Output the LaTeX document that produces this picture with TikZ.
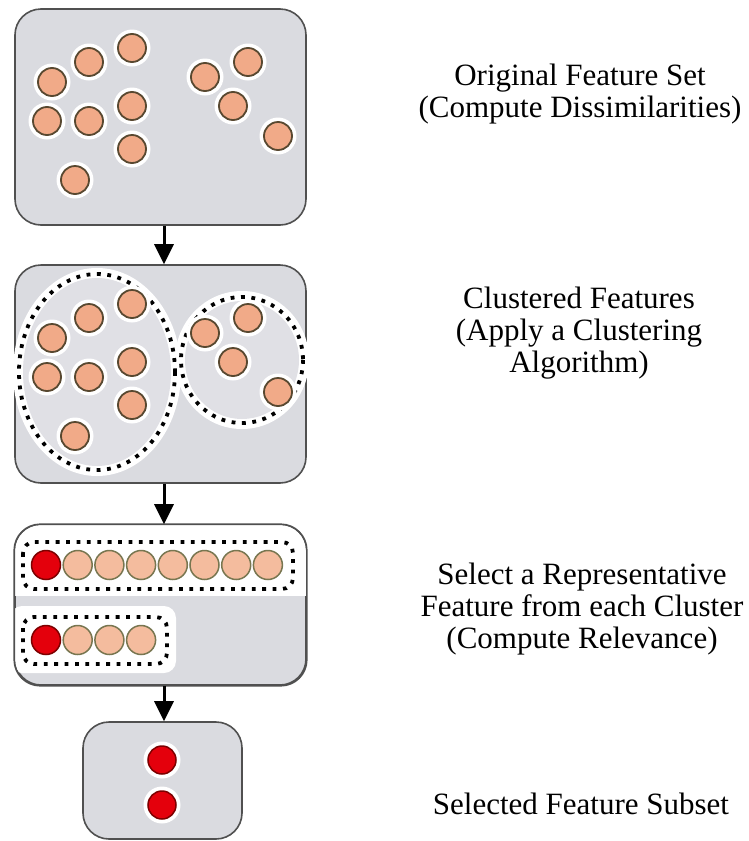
\documentclass[tikz,border=0pt]{standalone}
\usepackage{fontspec}
\setmainfont{Liberation Serif}
\newfontfamily\captionserif{Liberation Serif}
\usetikzlibrary{arrows.meta}

\definecolor{boxgray}{RGB}{218,219,224}
\definecolor{boxedge}{RGB}{80,80,80}
\definecolor{peach}{RGB}{241,170,136}
\definecolor{peachedge}{RGB}{88,72,48}
\definecolor{paleveach}{RGB}{244,188,158}
\definecolor{paleedge}{RGB}{120,118,80}
\definecolor{featred}{RGB}{228,0,12}
\definecolor{rededge}{RGB}{125,0,0}

\begin{document}
\begin{tikzpicture}[x=1pt,y=-1pt,
  panel/.style={draw=boxedge, line width=1.6pt, fill=boxgray, rounded corners=26pt,
                inner sep=0pt},
  halo/.style={circle, fill=white, minimum size=37pt, inner sep=0pt},
  feat/.style={circle, draw=peachedge, fill=peach, line width=1.8pt,
               minimum size=28pt, inner sep=0pt},
  rowfeat/.style={circle, draw=paleedge, fill=paleveach, line width=1.5pt,
                  minimum size=29pt, inner sep=0pt},
  repfeat/.style={circle, draw=rededge, fill=featred, line width=1.5pt,
                  minimum size=29pt, inner sep=0pt},
  dotline/.style={black, line width=3.8pt, dash pattern=on 3.8pt off 6.6pt},
  dothalo/.style={white, line width=12pt},
  flow/.style={black, line width=3pt, -{Triangle[width=19pt,length=20pt]}},
  caption/.style={align=center, inner sep=0pt,
                  font=\captionserif\fontsize{31}{32}\selectfont}
]
\useasboundingbox (0,0) rectangle (749,841);

% ---------- panels ----------
\node[panel, minimum width=291pt, minimum height=216pt] (p1) at (160.5,117) {};
\node[panel, minimum width=291pt, minimum height=218pt] (p2) at (160.5,374) {};
\node[panel, minimum width=291pt, minimum height=160pt] (p3) at (160.5,605) {};
\node[panel, minimum width=159pt, minimum height=117pt] (p4) at (162.5,780.5) {};

% ---------- panel 1: the original feature set ----------
\foreach \x/\y [count=\i] in {132/48, 89/62, 52/82, 47/121, 89/121, 132/106,
                              132/149, 75/180, 205/77, 248/62, 233/106, 278/136}{
  \node[halo] at (\x,\y) {};
  \node[feat] (a\i) at (\x,\y) {};
}

% ---------- panel 2: clustered features ----------
\draw[dothalo] (97,372) ellipse [x radius=78, y radius=98];
\draw[dothalo] (242,360) ellipse [x radius=61, y radius=63];
\fill[boxgray!85!white] (97,372) ellipse [x radius=74, y radius=94];
\fill[boxgray!85!white] (242,360) ellipse [x radius=57, y radius=59];
\draw[dotline] (97,372) ellipse [x radius=78, y radius=98];
\draw[dotline] (242,360) ellipse [x radius=61, y radius=63];
\foreach \x/\y [count=\i] in {132/48, 89/62, 52/82, 47/121, 89/121, 132/106,
                              132/149, 75/180, 205/77, 248/62, 233/106, 278/136}{
  \node[halo] at (\x,\y+256) {};
  \node[feat] (b\i) at (\x,\y+256) {};
}

% ---------- panel 3: one representative per cluster ----------
\begin{scope}
  \clip[rounded corners=26pt] (15,525) rectangle (306,685);
  \fill[white] (10,520) rectangle (310,596);
  \fill[white, rounded corners=12pt] (10,606) rectangle (176,673);
\end{scope}
\draw[boxedge, line width=1.6pt, rounded corners=26pt] (p3.south west) rectangle (p3.north east);
\draw[dotline, rounded corners=11pt] (23,542) rectangle (293,589);
\draw[dotline, rounded corners=11pt] (23,617) rectangle (167,664);
\node[repfeat] (r1) at (46,565) {};
\foreach \k in {1,...,7}{
  \node[rowfeat] (c\k) at (46+31.7*\k,565) {};
}
\node[repfeat] (r2) at (46,640) {};
\foreach \k in {1,2,3}{
  \node[rowfeat] (d\k) at (46+31.7*\k,640) {};
}

% ---------- panel 4: selected subset ----------
\node[halo] at (162,760) {};
\node[halo] at (162,805) {};
\node[repfeat, minimum size=28pt] (s1) at (162,760) {};
\node[repfeat, minimum size=28pt] (s2) at (162,805) {};

% ---------- flow between stages ----------
\draw[flow] ([xshift=3.5pt]p1.south) -- ([xshift=3.5pt]p2.north);
\draw[flow] ([xshift=3.5pt]p2.south) -- ([xshift=3.5pt]p3.north);
\draw[flow] ([xshift=3.5pt]p3.south) -- ([xshift=1.5pt]p4.north);

% ---------- stage descriptions ----------
\node[caption] (t1) at (580,94) {Original Feature Set\\(Compute Dissimilarities)};
\node[caption] (t2) at (579,333) {Clustered Features\\(Apply a Clustering\\Algorithm)};
\node[caption] (t3) at (582,609) {Select a Representative\\Feature from each Cluster\\(Compute Relevance)};
\node[caption] (t4) at (581,804) {Selected Feature Subset};
\end{tikzpicture}
\end{document}
